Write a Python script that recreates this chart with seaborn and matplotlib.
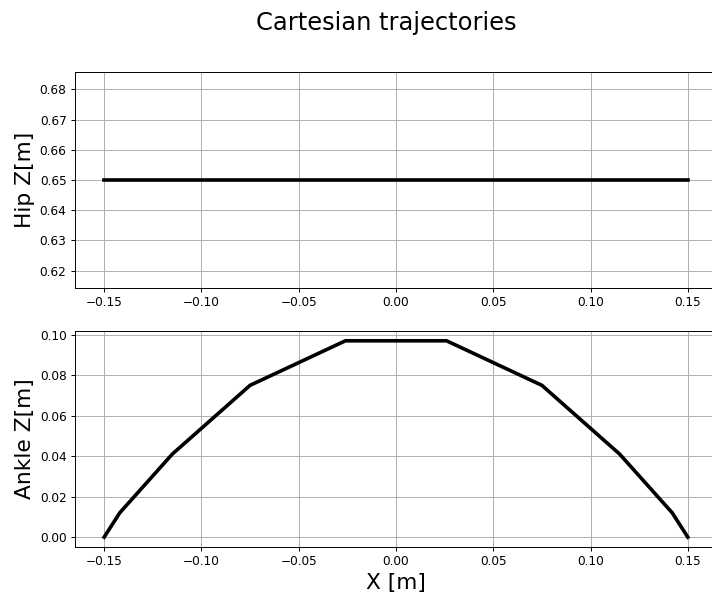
import matplotlib
matplotlib.use("Agg")
import matplotlib.pyplot as plt
import seaborn as sns
import numpy as np

# Foot path sampled along X, with hip height held constant
x_hip = [-0.15, 0.15]
z_hip = [0.65, 0.65]

x_ankle = [-0.15, -0.142, -0.115, -0.075, -0.026, 0.026, 0.075, 0.115, 0.142, 0.15]
z_ankle = [0.0, 0.012, 0.041, 0.075, 0.097, 0.097, 0.075, 0.041, 0.012, 0.0]

plt.rcParams["font.family"] = ["DejaVu Sans"]

DPI = 87
fig = plt.figure(figsize=(712 / DPI, 597 / DPI), dpi=DPI)
ax1 = fig.add_axes([0.1053, 0.5176, 0.9017, 0.3618])
ax2 = fig.add_axes([0.1053, 0.0838, 0.9017, 0.3618])

sns.lineplot(x=x_hip, y=z_hip, ax=ax1, color="black", linewidth=3)
sns.lineplot(x=x_ankle, y=z_ankle, ax=ax2, color="black", linewidth=3, sort=False)

for ax in (ax1, ax2):
    ax.grid(True)
    ax.tick_params(labelsize=10)

ax1.yaxis.set_major_locator(matplotlib.ticker.MultipleLocator(0.01))

ax1.set_ylabel("Hip Z[m]", fontsize=18)
ax2.set_ylabel("Ankle Z[m]", fontsize=18)
ax2.set_xlabel("X [m]", fontsize=18)
ax1.set_xlabel("")

fig.suptitle("Cartesian trajectories", fontsize=20, y=0.982, x=0.542)

fig.savefig("out.png", dpi=DPI)
